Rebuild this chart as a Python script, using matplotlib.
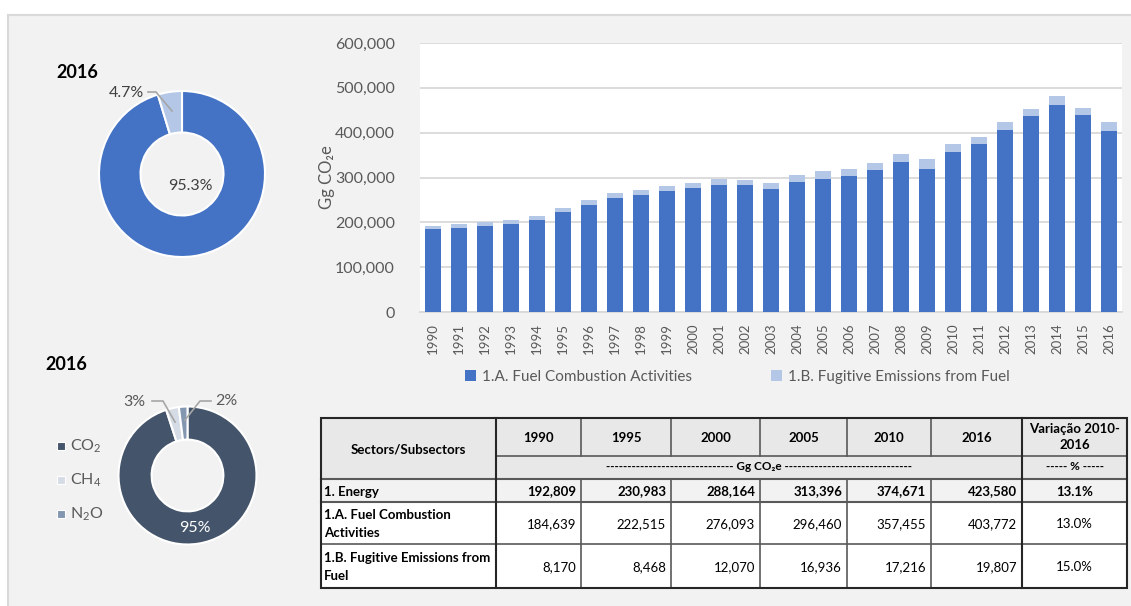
import matplotlib
matplotlib.use('Agg')
import matplotlib.pyplot as plt
from matplotlib.patches import Rectangle
from matplotlib.lines import Line2D
import numpy as np

# ---------------- data ----------------
years = [str(y) for y in range(1990, 2017)]
fuel_combustion = [184.639, 188.4, 192.9, 197.3, 205.5, 222.515, 239.6, 255.2, 261.1, 270.8,
                   276.093, 283.4, 283.4, 274.5, 290.8, 296.460, 303.4, 316.8, 334.6, 319.0,
                   357.455, 373.9, 406.5, 436.2, 461.4, 438.4, 403.772]  # thousand Gg
total_energy = [192.809, 195.8, 201.0, 204.7, 215.0, 230.983, 249.3, 264.8, 273.0, 281.2,
                288.164, 296.0, 294.5, 288.6, 304.9, 313.396, 318.2, 331.6, 351.6, 340.5,
                374.671, 389.5, 423.6, 453.3, 481.5, 455.5, 423.580]
series_names = ['1.A. Fuel Combustion Activities', '1.B. Fugitive Emissions from Fuel']

sub_share_labels = ['95.3%', '4.7%']
sub_share_values = [95.3, 4.7]

gas_labels = ['CO$_2$', 'CH$_4$', 'N$_2$O']
gas_values = [95, 3, 2]
gas_pct_labels = ['95%', '3%', '2%']

tbl_years = ['1990', '1995', '2000', '2005', '2010', '2016']
tbl_rows = ['1. Energy', '1.A. Fuel Combustion\nActivities', '1.B. Fugitive Emissions from\nFuel']
tbl_values = [
    ['192,809', '230,983', '288,164', '313,396', '374,671', '423,580', '13.1%'],
    ['184,639', '222,515', '276,093', '296,460', '357,455', '403,772', '13.0%'],
    ['8,170', '8,468', '12,070', '16,936', '17,216', '19,807', '15.0%'],
]

# ---------------- setup ----------------
FONT = ['Lato', 'DejaVu Sans']
plt.rcParams['font.family'] = FONT
plt.rcParams['mathtext.fontset'] = 'custom'
plt.rcParams['mathtext.rm'] = 'Lato'
plt.rcParams['mathtext.it'] = 'Lato'
GREY_TXT = '#595959'
C1, C2 = '#4472c4', '#b4c7e7'

W, H = 1131, 606
fig = plt.figure(figsize=(W / 100, H / 100), dpi=100)
fig.patch.set_facecolor('white')


def fx(x):
    return x / W


def fy(y):
    return 1 - y / H


def fline(xs, ys, **kw):
    fig.add_artist(Line2D([fx(x) for x in xs], [fy(y) for y in ys],
                          transform=fig.transFigure, **kw))


def frect(x0, y0, x1, y1, **kw):
    fig.add_artist(Rectangle((fx(x0), fy(y1)), fx(x1) - fx(x0), fy(y0) - fy(y1),
                             transform=fig.transFigure, **kw))


def ftext(x, y, s, **kw):
    fig.text(fx(x), fy(y), s, **kw)


# panel background
frect(8, 15, 1135, 610, facecolor='#f2f2f2', edgecolor='#d9d9d9', lw=1.5, zorder=0)

# ---------------- bar chart ----------------
ax = fig.add_axes([fx(420), fy(312), fx(1122) - fx(420), fy(43) - fy(312)])
ax.set_facecolor('white')
x = np.arange(len(years))
fugitive = np.array(total_energy) - np.array(fuel_combustion)
ax.bar(x, fuel_combustion, width=0.58, color=C1, label=series_names[0], zorder=3)
ax.bar(x, fugitive, width=0.58, bottom=fuel_combustion, color=C2, label=series_names[1], zorder=3)
ax.set_xlim(-0.5, len(years) - 0.5)
ax.set_ylim(0, 600)
ax.set_yticks(np.arange(0, 601, 100))
ax.set_yticklabels(['0' if v == 0 else f'{v * 1000:,.0f}' for v in range(0, 601, 100)],
                   fontsize=11.5, color=GREY_TXT)
ax.set_xticks(x)
ax.set_xticklabels(years, rotation=90, fontsize=9.5, color=GREY_TXT)
ax.tick_params(axis='both', length=0)
ax.tick_params(axis='y', pad=18)
ax.tick_params(axis='x', pad=8)
ax.grid(axis='y', color='#d9d9d9', lw=1.3, zorder=0)
for s in ['left', 'right', 'top']:
    ax.spines[s].set_visible(False)
ax.spines['bottom'].set_color('#d9d9d9')
ax.spines['bottom'].set_linewidth(1.3)
ax.set_ylabel('Gg CO₂e', fontsize=12, color=GREY_TXT, va='center')
ax.yaxis.set_label_coords((327 - 420) / 702, 0.5)
leg = ax.legend(loc='center', bbox_to_anchor=(0.452, -0.24), ncol=2, frameon=False,
                fontsize=11, handlelength=0.7, handleheight=0.7, handletextpad=0.4,
                columnspacing=5.2)
for t in leg.get_texts():
    t.set_color(GREY_TXT)

# ---------------- donut 1 ----------------
cx, cy, R = 182, 174, 83
half = 1.2 * R
ax1 = fig.add_axes([fx(cx - half), fy(cy + half), 2 * half / W, 2 * half / H])
ax1.pie(sub_share_values, colors=[C1, C2], startangle=90, counterclock=False,
        wedgeprops=dict(width=0.5, edgecolor='white', linewidth=1.5))
ax1.set_xlim(-1.2, 1.2)
ax1.set_ylim(-1.2, 1.2)
ax1.set_aspect('equal')
ax1.axis('off')
ftext(190, 186, sub_share_labels[0], fontsize=11.5, color='#404040', ha='center', va='center')
ftext(126, 93, sub_share_labels[1], fontsize=11.5, color='#404040', ha='center', va='center')
fline([148, 156, 172], [92, 92, 111], color='#a6a6a6', lw=1.2)
ftext(77, 72, '2016', fontsize=13, fontweight='bold', color='black', ha='center', va='center')

# ---------------- donut 2 ----------------
cx2, cy2, R2 = 187.5, 475.5, 69
half2 = 1.2 * R2
ax2 = fig.add_axes([fx(cx2 - half2), fy(cy2 + half2), 2 * half2 / W, 2 * half2 / H])
ax2.pie(gas_values, colors=['#44546a', '#d6dce5', '#8497b0'], startangle=90, counterclock=False,
        wedgeprops=dict(width=0.48, edgecolor='white', linewidth=1.5))
ax2.set_xlim(-1.2, 1.2)
ax2.set_ylim(-1.2, 1.2)
ax2.set_aspect('equal')
ax2.axis('off')
ftext(195, 528, gas_pct_labels[0], fontsize=11.5, color='white', ha='center', va='center')
ftext(134, 402, gas_pct_labels[1], fontsize=11.5, color=GREY_TXT, ha='center', va='center')
ftext(226, 401, gas_pct_labels[2], fontsize=11.5, color=GREY_TXT, ha='center', va='center')
fline([152, 163, 175], [401, 401, 422], color='#a6a6a6', lw=1.2)
fline([211, 200, 185], [401, 401, 420], color='#a6a6a6', lw=1.2)
ftext(66, 365, '2016', fontsize=13, fontweight='bold', color='black', ha='center', va='center')
for lbl, col, yy in zip(gas_labels, ['#44546a', '#d6dce5', '#8497b0'], [446, 480, 514]):
    frect(57, yy - 4, 65, yy + 4, facecolor=col, edgecolor='white', lw=0.8)
    ftext(70, yy, lbl, fontsize=11.5, color=GREY_TXT, ha='left', va='center')

# ---------------- table ----------------
cols = [321, 496, 581, 671, 760, 847, 931, 1022, 1127]
rows = [418, 456, 479, 502, 544, 588]
# backgrounds
frect(cols[0], rows[0], cols[-1], rows[2], facecolor='#e8e8e8', edgecolor='none', zorder=1)
frect(cols[0], rows[2], cols[-1], rows[3], facecolor='#f2f2f2', edgecolor='none', zorder=1)
frect(cols[0], rows[3], cols[-1], rows[5], facecolor='white', edgecolor='none', zorder=1)
DK = '#262626'
MID = '#595959'
# horizontal lines
fline([cols[1], cols[-1]], [rows[1], rows[1]], color=MID, lw=1.2, zorder=3)
fline([cols[0], cols[-1]], [rows[2], rows[2]], color=MID, lw=1.5, zorder=3)
fline([cols[0], cols[-1]], [rows[3], rows[3]], color=MID, lw=1.5, zorder=3)
fline([cols[0], cols[-1]], [rows[4], rows[4]], color=MID, lw=1.2, zorder=3)
# vertical lines
for i, c in enumerate(cols[1:-1], start=1):
    if c in (cols[1], cols[7]):
        fline([c, c], [rows[0], rows[5]], color=DK, lw=1.5, zorder=3)
    else:
        # internal year separators don't cross the unit row
        fline([c, c], [rows[0], rows[1]], color=MID, lw=1.2, zorder=3)
        fline([c, c], [rows[2], rows[5]], color=MID, lw=1.2, zorder=3)
frect(cols[0], rows[0], cols[-1], rows[5], facecolor='none', edgecolor=DK, lw=1.5, zorder=4)

TF = 9.5
ftext((cols[0] + cols[1]) / 2, 449, 'Sectors/Subsectors', fontsize=TF, fontweight='bold',
      color='black', ha='center', va='center', zorder=5)
for j, yr in enumerate(tbl_years):
    ftext((cols[j + 1] + cols[j + 2]) / 2, 438, yr, fontsize=TF, fontweight='bold',
          color='black', ha='center', va='center', zorder=5)
ftext((cols[7] + cols[8]) / 2, 437, 'Variação 2010-\n2016', fontsize=TF, fontweight='bold',
      color='black', ha='center', va='center', linespacing=1.4, zorder=5)
ftext((cols[1] + cols[7]) / 2, 467, '-' * 30 + ' Gg CO₂e ' + '-' * 30, fontsize=TF - 1,
      fontweight='bold', color='black', ha='center', va='center', zorder=5)
ftext((cols[7] + cols[8]) / 2, 467, '----- % -----', fontsize=TF - 1, fontweight='bold',
      color='black', ha='center', va='center', zorder=5)
for r, (lbl, vals) in enumerate(zip(tbl_rows, tbl_values)):
    yc = (rows[r + 2] + rows[r + 3]) / 2 + 1
    bold = 'bold' if r == 0 else 'normal'
    ftext(cols[0] + 3, yc, lbl, fontsize=TF, fontweight='bold', color='black',
          ha='left', va='center', linespacing=1.6, zorder=5)
    for j, v in enumerate(vals[:-1]):
        ftext(cols[j + 2] - 5, yc, v, fontsize=TF, fontweight=bold, color='black',
              ha='right', va='center', zorder=5)
    ftext((cols[7] + cols[8]) / 2, yc, vals[-1], fontsize=TF, fontweight=bold, color='black',
          ha='center', va='center', zorder=5)

fig.savefig('out.png', dpi=100, facecolor=fig.get_facecolor())
